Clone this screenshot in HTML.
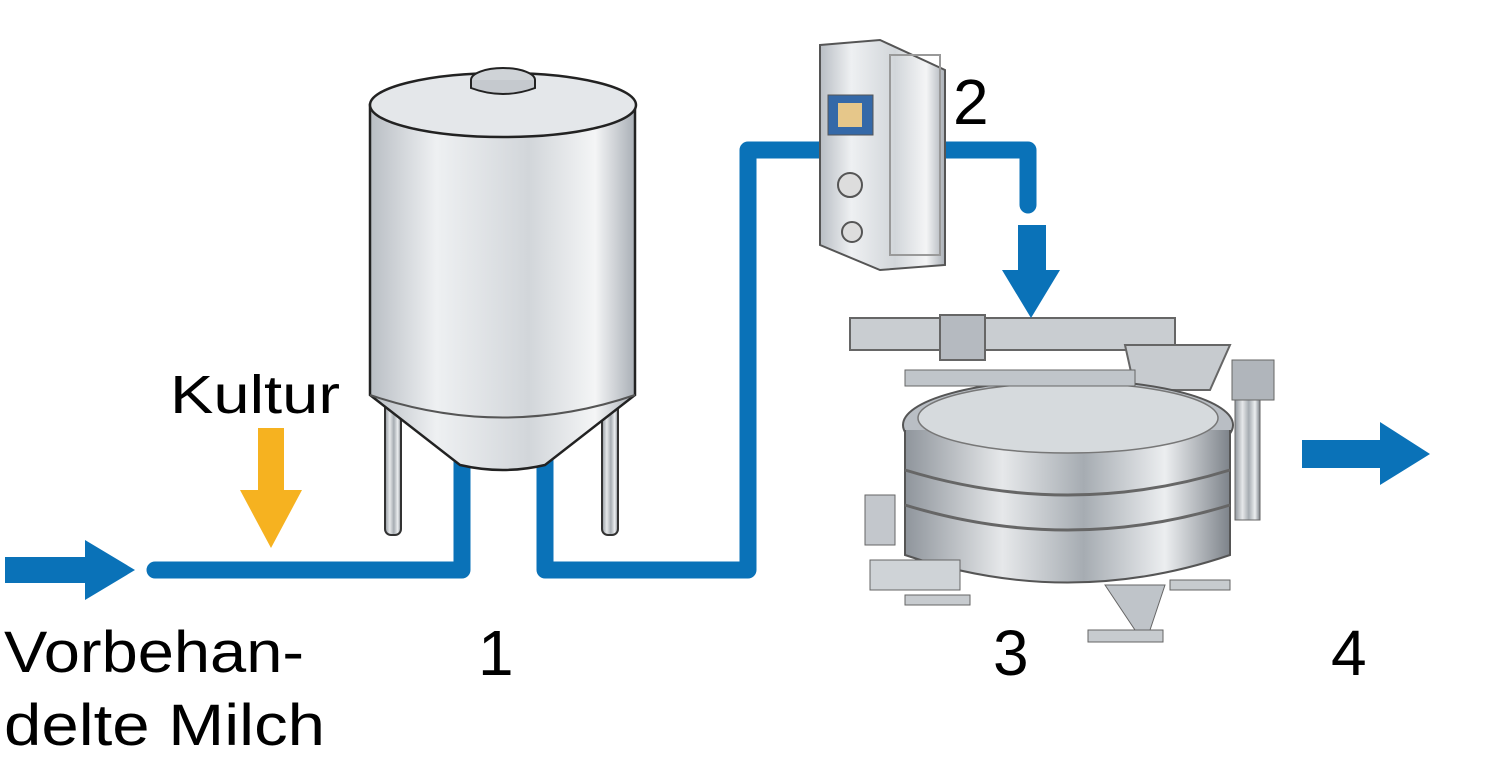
<!DOCTYPE html>
<html><head><meta charset="utf-8"><style>
html,body{margin:0;padding:0;background:#fff;width:1508px;height:774px;overflow:hidden}
text{font-family:"Liberation Sans",sans-serif;fill:#000}
</style></head><body>
<svg width="1508" height="774" viewBox="0 0 1508 774" xmlns="http://www.w3.org/2000/svg">
<defs>
<linearGradient id="steel" x1="0" x2="1" y1="0" y2="0">
<stop offset="0" stop-color="#b9bec4"/><stop offset="0.25" stop-color="#eef0f2"/><stop offset="0.6" stop-color="#d2d6da"/><stop offset="0.85" stop-color="#f4f5f6"/><stop offset="1" stop-color="#a9afb6"/>
</linearGradient>
<linearGradient id="steel2" x1="0" x2="1" y1="0" y2="0">
<stop offset="0" stop-color="#8f959c"/><stop offset="0.3" stop-color="#e6e8ea"/><stop offset="0.55" stop-color="#a6acb2"/><stop offset="0.8" stop-color="#eceef0"/><stop offset="1" stop-color="#7d838a"/>
</linearGradient>
</defs>
<g fill="none" stroke="#0a72b8" stroke-width="17" stroke-linejoin="round" stroke-linecap="round">
<path d="M155 570 H462 V460"/>
<path d="M545 460 V570 H748 V150 H825"/>
<path d="M940 150 H1028 V205"/>
</g>
<rect x="385" y="395" width="16" height="140" rx="6" fill="url(#steel2)" stroke="#333" stroke-width="2"/>
<rect x="602" y="395" width="16" height="140" rx="6" fill="url(#steel2)" stroke="#333" stroke-width="2"/>
<path d="M370 105 V395 L460 465 Q503 475 545 465 L635 395 V105 Z" fill="url(#steel)" stroke="#222" stroke-width="2.5"/>
<ellipse cx="503" cy="105" rx="133" ry="32" fill="#e4e7ea" stroke="#222" stroke-width="2.5"/>
<ellipse cx="503" cy="80" rx="32" ry="12" fill="#cfd3d7" stroke="#222" stroke-width="2"/>
<path d="M471 80 V88 Q503 100 535 88 V80" fill="#c5c9ce" stroke="#222" stroke-width="2"/>
<path d="M370 395 Q503 440 635 395" fill="none" stroke="#555" stroke-width="2"/>
<path d="M820 45 L880 40 L945 70 V265 L880 270 L820 245 Z" fill="url(#steel)" stroke="#555" stroke-width="2"/>
<rect x="828" y="95" width="45" height="40" fill="#3569a8" stroke="#555"/>
<rect x="838" y="103" width="24" height="24" fill="#e6c78a"/>
<rect x="890" y="55" width="50" height="200" fill="none" stroke="#999" stroke-width="2"/>
<circle cx="850" cy="185" r="12" fill="#ddd" stroke="#555" stroke-width="2"/>
<circle cx="852" cy="232" r="10" fill="#ddd" stroke="#555" stroke-width="2"/>
<rect x="850" y="318" width="325" height="32" fill="#c9cdd1" stroke="#666" stroke-width="2"/>
<rect x="940" y="315" width="45" height="45" fill="#b5bac0" stroke="#666" stroke-width="2"/>
<path d="M1125 345 H1230 L1210 390 H1135 Z" fill="#c7cbcf" stroke="#666" stroke-width="2"/>
<ellipse cx="1068" cy="425" rx="165" ry="45" fill="#b9bec4" stroke="#555" stroke-width="2"/>
<path d="M905 430 V555 Q1068 610 1230 555 V430" fill="url(#steel2)" stroke="#555" stroke-width="2"/>
<path d="M905 470 Q1068 520 1230 470" fill="none" stroke="#666" stroke-width="3"/>
<path d="M905 505 Q1068 555 1230 505" fill="none" stroke="#666" stroke-width="3"/>
<ellipse cx="1068" cy="418" rx="150" ry="35" fill="#d6dadd" stroke="#777" stroke-width="1.5"/>
<rect x="905" y="370" width="230" height="16" fill="#c0c5ca" stroke="#666"/>
<rect x="1232" y="360" width="42" height="40" fill="#b0b5bb" stroke="#666"/>
<rect x="1235" y="400" width="25" height="120" fill="url(#steel2)" stroke="#666"/>
<path d="M1105 585 L1135 630 H1150 L1165 585 Z" fill="#bfc4c9" stroke="#666"/>
<rect x="1088" y="630" width="75" height="12" fill="#c7cbcf" stroke="#666"/>
<rect x="865" y="495" width="30" height="50" fill="#c3c7cc" stroke="#666"/>
<path d="M870 560 H960 V590 H870 Z" fill="#cfd3d7" stroke="#666"/>
<rect x="905" y="595" width="65" height="10" fill="#c7cbcf" stroke="#666"/>
<rect x="1170" y="580" width="60" height="10" fill="#c7cbcf" stroke="#666"/>
<path d="M5 557 H85 V540 L135 570 L85 600 V583 H5 Z" fill="#0a72b8"/>
<path d="M1018 225 H1046 V270 H1060 L1031 318 L1002 270 H1018 Z" fill="#0a72b8"/>
<path d="M1302 440 H1380 V422 L1430 454 L1380 485 V468 H1302 Z" fill="#0a72b8"/>
<path d="M258 428 H284 V490 H302 L271 548 L240 490 H258 Z" fill="#f6b220"/>
<text x="170" y="413" font-size="54" textLength="170" lengthAdjust="spacingAndGlyphs">Kultur</text>
<text x="478" y="675" font-size="64">1</text>
<text x="953" y="124" font-size="64">2</text>
<text x="993" y="675" font-size="64">3</text>
<text x="1331" y="675" font-size="64">4</text>
<text x="4" y="672" font-size="58" textLength="300" lengthAdjust="spacingAndGlyphs">Vorbehan-</text>
<text x="4" y="745" font-size="58" textLength="321" lengthAdjust="spacingAndGlyphs">delte Milch</text>
</svg>
</body></html>
